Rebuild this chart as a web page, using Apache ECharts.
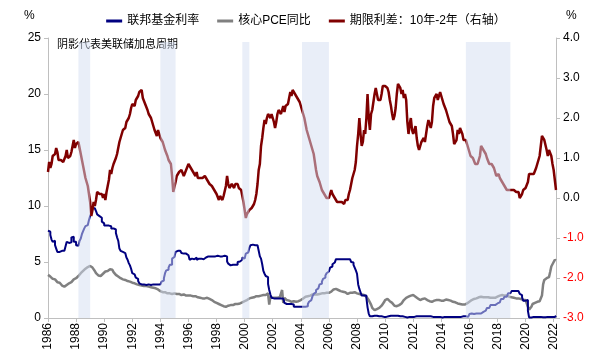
<!DOCTYPE html>
<html>
<head>
<meta charset="utf-8">
<script src="https://cdn.jsdelivr.net/npm/echarts@6/dist/echarts.min.js"></script>
<style>html,body{margin:0;padding:0;background:#fff}#c{width:612px;height:358px}</style>
</head>
<body>
<div id="c"></div>
<script>
// Monthly categories Jan 1986 .. Mar 2022
const startYear = 1986, endYear = 2022, endMonth = 3;
const months = [];
for (let y = startYear; y <= endYear; y++) {
  for (let m = 1; m <= 12; m++) {
    if (y === endYear && m > endMonth) break;
    months.push(y + '-' + (m < 10 ? '0' + m : m));
  }
}
const yearTicks = ['1986','1988','1990','1992','1994','1996','1998','2000','2002','2004','2006','2008','2010','2012','2014','2016','2018','2020','2022'];

// Fed funds rate (%), monthly
const fedFunds = [
 7.8,7.7,7.4,7.0,6.8,6.9,6.5,6.2,5.9,5.9,5.95,6.0,
 6.0,6.0,6.05,6.4,6.8,6.7,6.7,6.75,7.2,7.25,6.8,6.8,
 6.5,6.45,6.6,6.9,7.1,7.5,7.75,8.0,8.2,8.3,8.35,8.75,
 9.1,9.35,9.8,9.8,9.8,9.55,9.25,9.1,9.0,8.95,8.6,8.45,
 8.25,8.25,8.3,8.25,8.2,8.2,8.0,8.0,7.95,7.9,7.6,7.2,
 6.9,6.2,6.0,5.9,5.8,5.8,5.7,5.4,5.2,4.9,4.7,4.4,
 4.0,3.9,3.8,3.6,3.5,3.3,3.1,3.0,3.0,3.0,3.0,2.95,
 3.0,3.0,3.05,2.95,3.0,3.0,3.05,3.0,2.95,3.0,3.0,3.0,
 3.05,3.25,3.35,3.55,4.0,4.25,4.3,4.5,4.75,4.75,5.3,5.45,
 5.55,5.9,6.0,6.05,6.0,6.0,5.8,5.75,5.75,5.75,5.8,5.6,
 5.55,5.2,5.3,5.2,5.25,5.25,5.4,5.2,5.3,5.25,5.3,5.3,
 5.25,5.2,5.4,5.5,5.5,5.55,5.5,5.5,5.5,5.5,5.5,5.5,
 5.55,5.5,5.5,5.45,5.5,5.55,5.55,5.5,5.5,5.05,4.85,4.7,
 4.65,4.75,4.8,4.75,4.75,4.75,5.0,5.05,5.2,5.2,5.4,5.3,
 5.45,5.75,5.85,6.0,6.25,6.5,6.55,6.5,6.5,6.5,6.5,6.4,
 6.0,5.5,5.3,4.8,4.2,3.95,3.75,3.65,3.05,2.5,2.1,1.8,
 1.75,1.75,1.75,1.75,1.75,1.75,1.75,1.75,1.75,1.75,1.35,1.25,
 1.25,1.25,1.25,1.25,1.25,1.2,1.0,1.0,1.0,1.0,1.0,1.0,
 1.0,1.0,1.0,1.0,1.0,1.05,1.25,1.45,1.6,1.75,1.95,2.15,
 2.3,2.5,2.65,2.8,3.0,3.05,3.25,3.5,3.6,3.8,4.0,4.15,
 4.3,4.5,4.6,4.8,4.95,5.0,5.25,5.25,5.25,5.25,5.25,5.25,
 5.25,5.25,5.25,5.25,5.25,5.25,5.25,5.0,4.95,4.75,4.5,4.25,
 3.95,3.0,2.6,2.3,2.0,2.0,2.0,2.0,1.8,0.95,0.4,0.15,
 0.15,0.2,0.2,0.15,0.2,0.2,0.15,0.15,0.15,0.1,0.1,0.1,
 0.1,0.15,0.15,0.2,0.2,0.2,0.2,0.2,0.2,0.2,0.2,0.2,
 0.15,0.15,0.15,0.1,0.1,0.1,0.05,0.1,0.1,0.05,0.1,0.05,
 0.1,0.1,0.15,0.15,0.15,0.15,0.15,0.15,0.15,0.15,0.15,0.15,
 0.15,0.15,0.15,0.15,0.1,0.1,0.1,0.1,0.1,0.1,0.1,0.1,
 0.05,0.05,0.1,0.1,0.1,0.1,0.1,0.1,0.1,0.1,0.1,0.1,
 0.1,0.1,0.1,0.1,0.1,0.15,0.15,0.15,0.15,0.1,0.1,0.25,
 0.35,0.4,0.35,0.35,0.35,0.4,0.4,0.4,0.4,0.4,0.4,0.55,
 0.65,0.65,0.8,0.9,0.9,1.05,1.15,1.15,1.15,1.15,1.15,1.3,
 1.4,1.4,1.5,1.7,1.7,1.8,1.9,1.9,1.95,2.2,2.2,2.25,
 2.4,2.4,2.4,2.4,2.4,2.4,2.4,2.15,2.05,1.85,1.55,1.55,
 1.55,1.6,0.65,0.05,0.05,0.1,0.1,0.1,0.1,0.1,0.1,0.1,
 0.1,0.08,0.07,0.07,0.06,0.08,0.1,0.09,0.08,0.08,0.08,0.08,
 0.08,0.08,0.2
];

// Core PCE YoY (%), monthly
const corePCE = [
 3.85,3.8,3.7,3.6,3.5,3.4,3.45,3.3,3.2,3.1,3.15,3.0,
 2.9,2.85,2.8,2.9,2.95,3.05,3.1,3.05,3.2,3.35,3.45,3.5,
 3.55,3.6,3.75,3.9,4.0,4.05,4.2,4.3,4.4,4.45,4.55,4.6,
 4.65,4.6,4.5,4.35,4.2,4.0,3.85,3.8,3.7,3.75,3.8,3.95,
 4.05,4.15,4.1,4.2,4.3,4.35,4.4,4.3,4.1,4.0,3.85,3.75,
 3.7,3.6,3.55,3.5,3.45,3.4,3.4,3.35,3.3,3.25,3.25,3.2,
 3.15,3.15,3.1,3.05,3.0,3.0,2.95,2.95,2.9,2.9,2.85,2.85,
 2.85,2.8,2.8,2.85,2.75,2.75,2.7,2.65,2.65,2.6,2.55,2.5,
 2.4,2.35,2.3,2.25,2.3,2.25,2.2,2.25,2.2,2.2,2.15,2.2,
 2.2,2.2,2.15,2.1,2.15,2.1,2.05,2.05,2.1,2.05,2.0,2.0,
 2.0,1.95,2.0,1.95,1.95,1.9,1.95,1.9,1.85,1.8,1.8,1.75,
 1.75,1.8,1.75,1.75,1.8,1.75,1.7,1.65,1.6,1.5,1.45,1.4,
 1.35,1.3,1.25,1.2,1.15,1.1,1.05,1.0,1.0,1.05,1.1,1.15,
 1.15,1.2,1.15,1.2,1.25,1.2,1.25,1.3,1.3,1.35,1.4,1.45,
 1.5,1.55,1.6,1.65,1.75,1.8,1.8,1.85,1.85,1.9,1.95,1.95,
 1.95,2.0,2.0,1.95,2.05,2.0,2.05,2.0,2.2,1.2,1.9,1.8,
 1.8,1.75,1.8,1.75,1.8,1.85,1.85,1.85,2.5,1.35,1.8,1.75,
 1.6,1.6,1.55,1.5,1.45,1.45,1.5,1.45,1.45,1.5,1.5,1.55,
 1.6,1.7,1.75,1.85,1.9,1.95,1.95,2.0,2.0,2.05,2.1,2.1,
 2.1,2.15,2.1,2.1,2.15,2.15,2.2,2.2,2.2,2.25,2.25,2.2,
 2.25,2.3,2.35,2.45,2.55,2.65,2.6,2.55,2.5,2.45,2.4,2.35,
 2.35,2.3,2.3,2.2,2.15,2.2,2.25,2.2,2.25,2.2,2.3,2.25,
 2.2,2.15,2.15,2.1,2.1,2.05,2.05,2.0,1.9,1.75,1.6,1.45,
 1.2,0.9,0.75,0.7,0.75,0.8,0.85,0.9,0.95,1.1,1.15,1.4,
 1.6,1.75,1.7,1.55,1.5,1.45,1.35,1.2,1.1,1.0,1.05,1.1,
 1.15,1.2,1.3,1.45,1.6,1.75,1.8,1.85,1.9,1.95,2.0,2.05,
 2.05,2.0,1.9,1.85,1.75,1.65,1.6,1.6,1.7,1.75,1.75,1.7,
 1.6,1.55,1.5,1.45,1.45,1.5,1.55,1.6,1.6,1.55,1.6,1.6,
 1.55,1.6,1.55,1.6,1.65,1.6,1.6,1.55,1.55,1.5,1.45,1.45,
 1.4,1.35,1.3,1.3,1.25,1.2,1.2,1.15,1.2,1.25,1.3,1.4,
 1.45,1.5,1.6,1.65,1.7,1.75,1.75,1.8,1.85,1.85,1.9,1.9,
 1.85,1.9,1.85,1.9,1.85,1.8,1.8,1.75,1.8,1.75,1.8,1.85,
 1.9,1.95,2.0,2.0,2.05,2.05,2.0,2.05,2.0,1.95,1.9,1.95,
 1.85,1.8,1.8,1.75,1.75,1.8,1.75,1.7,1.7,1.65,1.6,1.5,
 1.6,1.5,1.0,0.75,0.8,1.0,1.25,1.3,1.35,1.4,1.45,1.5,
 1.5,1.45,2.0,3.0,3.4,3.55,3.55,3.6,3.65,4.1,4.6,4.8,
 5.0,5.2,5.15
];

// Term spread 10Y-2Y (%), monthly, right axis
const termSpread = [
 0.65,0.9,0.75,0.85,1.05,1.0,1.1,1.25,1.15,0.95,0.9,0.95,
 0.95,0.9,0.85,1.05,1.2,1.0,0.95,1.05,1.15,1.3,1.45,1.25,
 1.35,1.3,1.4,1.25,1.1,0.95,0.8,0.65,0.5,0.45,0.3,0.1,
 -0.1,-0.45,-0.3,-0.1,-0.2,-0.05,0.15,0.2,0.1,0.05,0.1,0.0,
 0.1,-0.05,0.15,0.3,0.45,0.7,0.6,0.75,0.85,0.9,1.0,1.1,
 1.25,1.4,1.5,1.55,1.7,1.65,1.75,1.9,1.85,2.0,2.1,2.25,
 2.35,2.4,2.3,2.45,2.5,2.55,2.65,2.6,2.7,2.5,2.45,2.35,
 2.3,2.2,2.1,2.15,2.0,1.95,1.8,1.7,1.65,1.55,1.7,1.6,
 1.5,1.45,1.4,1.3,1.2,1.15,1.05,0.95,0.9,0.85,0.55,0.15,
 0.2,0.4,0.55,0.5,0.65,0.6,0.7,0.65,0.55,0.6,0.7,0.75,
 0.85,0.8,0.75,0.7,0.65,0.6,0.55,0.65,0.5,0.45,0.5,0.55,
 0.5,0.45,0.55,0.5,0.45,0.4,0.35,0.4,0.3,0.25,0.2,0.15,
 0.1,0.05,-0.05,0.05,0.0,-0.05,0.05,0.1,0.3,0.55,0.35,0.25,
 0.3,0.35,0.3,0.25,0.35,0.3,0.35,0.25,0.3,0.2,0.05,-0.1,
 -0.3,-0.5,-0.4,-0.45,-0.3,-0.35,-0.25,-0.3,-0.15,-0.05,0.1,0.35,
 0.7,0.85,1.3,1.5,1.75,1.95,1.85,2.0,2.1,2.15,2.0,2.1,
 2.0,1.9,1.75,1.9,2.1,2.2,2.25,2.1,2.2,2.3,2.15,2.3,
 2.3,2.35,2.5,2.65,2.55,2.7,2.75,2.6,2.55,2.5,2.45,2.4,
 2.3,2.2,2.1,2.0,1.85,1.7,1.6,1.5,1.4,1.35,1.2,1.1,
 0.9,0.7,0.55,0.5,0.4,0.3,0.2,0.15,0.1,0.05,0.0,0.05,
 0.0,0.05,0.2,0.1,0.05,0.0,-0.05,-0.1,-0.15,-0.1,-0.15,-0.1,
 -0.1,-0.15,-0.05,0.0,-0.05,0.1,0.2,0.35,0.5,0.55,0.7,0.9,
 1.3,1.6,2.0,1.6,1.3,1.4,1.7,1.6,2.0,2.6,2.0,1.7,
 2.1,2.2,2.4,2.6,2.75,2.6,2.45,2.5,2.45,2.6,2.8,2.85,
 2.8,2.85,2.75,2.65,2.45,2.3,2.1,1.95,2.05,2.25,2.6,2.85,
 2.8,2.75,2.6,2.7,2.5,2.6,2.45,1.9,1.6,1.85,2.0,1.7,
 1.6,1.7,1.8,1.5,1.3,1.2,1.3,1.4,1.45,1.5,1.4,1.45,
 1.8,1.95,1.85,1.75,1.9,2.3,2.5,2.5,2.6,2.45,2.55,2.65,
 2.55,2.5,2.35,2.3,2.2,2.15,2.0,1.9,1.95,1.8,1.6,1.35,
 1.3,1.45,1.7,1.6,1.75,1.7,1.6,1.45,1.5,1.45,1.35,1.25,
 1.2,1.05,1.0,1.0,0.95,0.85,0.8,0.85,0.9,1.05,1.3,1.25,
 1.2,1.15,1.1,1.0,0.95,0.85,0.9,0.85,0.8,0.75,0.65,0.55,
 0.55,0.6,0.5,0.45,0.4,0.35,0.3,0.25,0.2,0.25,0.2,0.15,
 0.2,0.2,0.2,0.2,0.15,0.2,0.15,0.0,-0.05,0.1,0.2,0.25,
 0.25,0.2,0.4,0.6,0.55,0.6,0.55,0.6,0.65,0.75,0.8,0.95,
 1.05,1.3,1.55,1.5,1.45,1.4,1.2,1.05,1.2,1.15,1.05,0.85,
 0.7,0.45,0.2
];

// Fed hiking cycles (shaded)
const hikeCycles = [
 ['1988-03','1989-01'],
 ['1994-01','1995-02'],
 ['1999-11','2000-05'],
 ['2004-02','2006-01'],
 ['2015-10','2018-12']
];
const shadeTop = 24.65;

const names = ['联邦基金利率', '核心PCE同比', '期限利差：10年-2年（右轴）'];
const FONT = "'Liberation Sans', Arial, 'Noto Sans CJK SC', sans-serif";

const shadeData = hikeCycles.map(c => [months.indexOf(c[0]), months.indexOf(c[1])]);

const chart = echarts.init(document.getElementById('c'), null, {renderer: 'canvas'});
chart.setOption({
  animation: false,
  backgroundColor: '#fff',
  textStyle: {fontFamily: FONT},
  grid: {left: 48, right: 56, top: 38, bottom: 40, containLabel: false},
  legend: {
    data: names,
    top: 10,
    left: 'center',
    icon: 'rect',
    itemWidth: 16,
    itemHeight: 3,
    itemGap: 18,
    textStyle: {fontSize: 12, color: '#000', fontFamily: FONT}
  },
  graphic: [
    {type: 'text', left: 24, top: 10, style: {text: '%', fontSize: 12, fill: '#000', fontFamily: FONT}},
    {type: 'text', left: 566, top: 10, style: {text: '%', fontSize: 12, fill: '#000', fontFamily: FONT}},
    {type: 'text', left: 57, top: 39, style: {text: '阴影代表美联储加息周期', fontSize: 11, fill: '#000', fontFamily: FONT}}
  ],
  xAxis: {
    type: 'category',
    data: months,
    boundaryGap: false,
    axisLine: {lineStyle: {color: '#BFBFBF'}},
    axisTick: {
      interval: (i, v) => yearTicks.includes(v.slice(0,4)) && v.slice(5) === '01',
      length: 4,
      lineStyle: {color: '#BFBFBF'}
    },
    axisLabel: {
      interval: (i, v) => yearTicks.includes(v.slice(0,4)) && v.slice(5) === '01',
      formatter: v => v.slice(0, 4),
      rotate: 90,
      fontSize: 12,
      color: '#000',
      margin: 5,
      fontFamily: FONT
    },
    splitLine: {show: false}
  },
  yAxis: [
    {
      type: 'value', min: 0, max: 25, interval: 5,
      axisLine: {show: true, lineStyle: {color: '#BFBFBF'}},
      axisTick: {show: true, length: 4, lineStyle: {color: '#BFBFBF'}},
      axisLabel: {fontSize: 12, color: '#000', margin: 7, fontFamily: FONT},
      splitLine: {show: false}
    },
    {
      type: 'value', min: -3, max: 4, interval: 1,
      position: 'right',
      axisLine: {show: true, lineStyle: {color: '#BFBFBF'}},
      axisTick: {show: true, length: 4, lineStyle: {color: '#BFBFBF'}},
      axisLabel: {
        fontSize: 12, margin: 7, fontFamily: FONT,
        formatter: v => v.toFixed(1),
        color: v => (Number(v) < 0 ? '#FF0000' : '#000')
      },
      splitLine: {show: false}
    }
  ],
  series: [
    {
      name: names[1], type: 'line', data: corePCE, yAxisIndex: 0,
      showSymbol: false, symbol: 'none', z: 2,
      lineStyle: {color: '#808080', width: 2.5},
      itemStyle: {color: '#808080'}
    },
    {
      name: names[0], type: 'line', data: fedFunds, yAxisIndex: 0,
      showSymbol: false, symbol: 'none', step: 'end', z: 2,
      lineStyle: {color: '#000080', width: 2},
      itemStyle: {color: '#000080'}
    },
    {
      name: names[2], type: 'line', data: termSpread, yAxisIndex: 1,
      showSymbol: false, symbol: 'none', z: 2,
      lineStyle: {color: '#800000', width: 2.5},
      itemStyle: {color: '#800000'}
    },
    {
      name: 'shade', type: 'custom', xAxisIndex: 0, yAxisIndex: 0, z: 5, silent: true,
      data: shadeData,
      renderItem: (params, api) => {
        const p0 = api.coord([api.value(0), shadeTop]);
        const p1 = api.coord([api.value(1), 0]);
        return {
          type: 'rect',
          shape: {x: p0[0], y: p0[1], width: p1[0] - p0[0], height: p1[1] - p0[1]},
          style: {fill: 'rgba(211,221,241,0.5)'}
        };
      }
    }
  ]
});
</script>
</body>
</html>
